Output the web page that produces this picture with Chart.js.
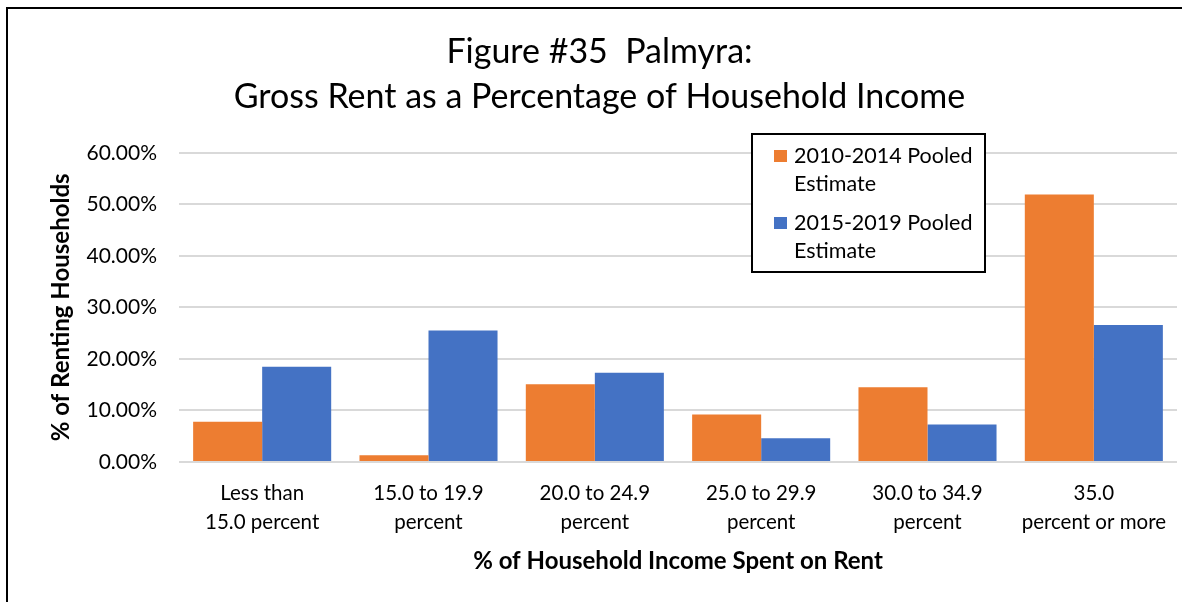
<!DOCTYPE html>
<html>
<head>
<meta charset="utf-8">
<script src="https://cdn.jsdelivr.net/npm/chart.js@4"></script>
<style>
  html, body { margin: 0; padding: 0; background: #fff; }
  #wrap { position: relative; width: 1182px; height: 602px; }
  #frame { position: absolute; left: 6px; top: 7px; right: 0; bottom: 0;
           border-left: 2px solid #000; border-top: 2px solid #000; pointer-events: none; }
  canvas { position: absolute; left: 0; top: 0; }
</style>
</head>
<body>
<div id="wrap">
  <canvas id="rentChart" width="1182" height="602"></canvas>
  <div id="frame"></div>
</div>
<script>
// --------- DADOS ----------
const categories = [
  ["Less than", "15.0 percent"],
  ["15.0 to 19.9", "percent"],
  ["20.0 to 24.9", "percent"],
  ["25.0 to 29.9", "percent"],
  ["30.0 to 34.9", "percent"],
  ["35.0", "percent or more"]
];
const pooled2010 = [7.8, 1.3, 15.1, 9.2, 14.5, 51.9];
const pooled2015 = [18.5, 25.5, 17.3, 4.6, 7.3, 26.6];
const seriesNames = ["2010-2014 Pooled Estimate", "2015-2019 Pooled Estimate"];
const legendLines = [["2010-2014 Pooled", "Estimate"], ["2015-2019 Pooled", "Estimate"]];
const titleLines = ["Figure #35  Palmyra:", "Gross Rent as a Percentage of Household Income"];
const yTicks = [0, 10, 20, 30, 40, 50, 60];

const orange = "#ED7D31";
const blue = "#4472C4";
const fontFamily = "Lato, 'Open Sans', sans-serif";

// legenda desenhada dentro da área do gráfico, com borda preta
const boxLegend = {
  id: "boxLegend",
  afterDraw(chart){
    const c = chart.ctx;
    const x = 752, y = 134, w = 233, h = 138;
    c.save();
    c.fillStyle = "#fff";
    c.fillRect(x, y, w, h);
    c.lineWidth = 2;
    c.strokeStyle = "#000";
    c.strokeRect(x, y, w, h);
    c.font = "21.5px " + fontFamily;
    c.textBaseline = "middle";
    chart.data.datasets.forEach((ds, i) => {
      const top = y + 22 + i * 67;
      c.fillStyle = ds.backgroundColor;
      c.fillRect(x + 22, top - 6, 13, 12);
      c.fillStyle = "#000";
      legendLines[i].forEach((line, j) => c.fillText(line, x + 42, top + j * 28.5));
    });
    c.restore();
  }
};

const ctx = document.getElementById("rentChart").getContext("2d");
const rentChart = new Chart(ctx, {
  type: "bar",
  data: {
    labels: categories,
    datasets: [
      { label: seriesNames[0], data: pooled2010, backgroundColor: orange },
      { label: seriesNames[1], data: pooled2015, backgroundColor: blue }
    ]
  },
  options: {
    responsive: false,
    animation: false,
    devicePixelRatio: 1,
    categoryPercentage: 0.83,
    barPercentage: 1.0,
    layout: { padding: { left: 22, right: 5, top: 0, bottom: 20 } },
    plugins: {
      legend: { display: false },
      tooltip: { enabled: false },
      title: {
        display: true,
        text: titleLines,
        color: "#000",
        font: { family: fontFamily, size: 34, weight: "normal", lineHeight: 1.32 },
        padding: { top: 29.5, bottom: 33.5 }
      }
    },
    scales: {
      x: {
        grid: { display: false },
        border: { display: false },
        ticks: {
          color: "#000",
          font: { family: fontFamily, size: 20.5, lineHeight: 1.42 },
          padding: 9,
          maxRotation: 0,
          autoSkip: false
        },
        title: {
          display: true,
          text: "% of Household Income Spent on Rent",
          color: "#000",
          font: { family: fontFamily, size: 24, weight: "bold" },
          padding: { top: 0, bottom: 6 }
        },
        afterFit(scale){ scale.height = 120; }
      },
      y: {
        min: 0,
        max: 60,
        afterBuildTicks(scale){ scale.ticks = yTicks.map(v => ({ value: v })); },
        grid: { color: "#D9D9D9", lineWidth: 2, drawTicks: false },
        border: { display: false },
        ticks: {
          color: "#000",
          font: { family: fontFamily, size: 21 },
          padding: 22,
          callback: v => v.toFixed(2) + "%"
        },
        title: {
          display: true,
          text: "% of Renting Households",
          color: "#000",
          font: { family: fontFamily, size: 24, weight: "bold" },
          padding: { top: 25, bottom: 0 }
        },
        afterFit(scale){ scale.width = 157; }
      }
    }
  },
  plugins: [boxLegend]
});
</script>
</body>
</html>
